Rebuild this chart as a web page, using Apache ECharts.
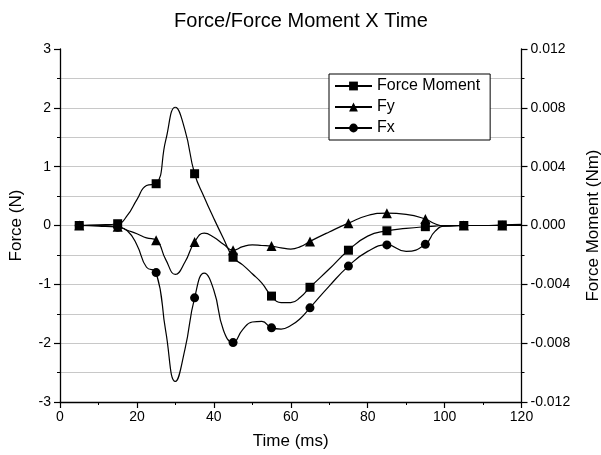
<!DOCTYPE html>
<html>
<head>
<meta charset="utf-8">
<script src="https://cdn.jsdelivr.net/npm/echarts@6/dist/echarts.min.js"></script>
<style>html,body{margin:0;padding:0;background:#fff;}#c{width:601px;height:455px;}</style>
</head>
<body>
<div id="c"></div>
<script>
// Time samples (ms); markers are drawn at 5, 15, 25, ... 115
const time = [5, 10, 15, 17.5, 20, 22.5, 25, 27.5, 30, 32.5, 35, 37.5, 40, 42.5, 45, 47.5, 50, 52.5, 55, 57.5, 60, 62.5, 65, 70, 75, 80, 85, 90, 95, 97.5, 100, 105, 110, 115, 120];
const markerTimes = [5, 15, 25, 35, 45, 55, 65, 75, 85, 95, 105, 115];
// Force Moment (Nm), right axis
const forceMoment = [0, 0.00004, 0.00012, 0.00068, 0.00176, 0.00272, 0.00284, 0.0058, 0.00804, 0.00648, 0.00352, 0.00192, 0.00048, -0.00088, -0.00216, -0.00268, -0.00328, -0.00392, -0.0048, -0.00524, -0.00524, -0.00488, -0.0042, -0.00296, -0.00168, -0.00072, -0.00036, -0.0002, -0.00008, -0.00004, 0, 0, 0, 0.00004, 0.00008];
// Fy (N), left axis
const fy = [0, 0, -0.02, -0.08, -0.14, -0.21, -0.25, -0.58, -0.83, -0.62, -0.28, -0.13, -0.2, -0.32, -0.42, -0.36, -0.33, -0.34, -0.35, -0.38, -0.40, -0.36, -0.27, -0.11, 0.04, 0.17, 0.21, 0.19, 0.11, 0.03, -0.01, 0, 0, 0, 0.01];
// Fx (N), left axis
const fx = [0, -0.01, -0.03, -0.09, -0.33, -0.71, -0.80, -1.8, -2.65, -2.1, -1.23, -0.81, -1.1, -1.78, -1.99, -1.77, -1.64, -1.63, -1.74, -1.76, -1.70, -1.58, -1.40, -1.03, -0.69, -0.44, -0.33, -0.44, -0.32, -0.1, -0.01, 0, 0, 0, 0];

const leftTicks = [-3, -2, -1, 0, 1, 2, 3];
const rightTicks = ['-0.012', '-0.008', '-0.004', '0.000', '0.004', '0.008', '0.012'];
const xTicks = [0, 20, 40, 60, 80, 100, 120];

const pairs = arr => time.map((t, i) => [t, arr[i]]);
const markerSize = size => (val) => (markerTimes.indexOf(val[0]) >= 0 ? size : 0);
const FONT = 'Liberation Sans, Arial, sans-serif';

const chart = echarts.init(document.getElementById('c'), null, {renderer: 'canvas'});
const axisCommon = {
  axisLine: {show: true, onZero: false, lineStyle: {color: '#000', width: 1.3}},
  axisTick: {show: true, inside: false, length: 6, lineStyle: {color: '#000', width: 1.2}},
  minorTick: {show: true, splitNumber: 2, length: 3, lineStyle: {color: '#000', width: 1}},
  axisLabel: {color: '#000', fontSize: 14, fontFamily: FONT},
  nameTextStyle: {color: '#000', fontSize: 17, fontFamily: FONT}
};
chart.setOption({
  animation: false,
  backgroundColor: '#fff',
  title: {
    text: 'Force/Force Moment X Time', left: 296, textAlign: 'center', top: 6,
    textStyle: {color: '#000', fontSize: 20, fontWeight: 'normal', fontFamily: FONT}
  },
  legend: {
    orient: 'vertical', left: 329, top: 74,
    data: ['Force Moment', 'Fy', 'Fx'],
    itemWidth: 37, itemHeight: 11, itemGap: 5,
    padding: [4, 10, 4, 5],
    borderColor: '#000', borderWidth: 1, backgroundColor: '#fff',
    textStyle: {color: '#000', fontSize: 16, fontFamily: FONT}
  },
  grid: {left: 60, right: 79.5, top: 49, bottom: 53, containLabel: false, outerBoundsMode: 'none'},
  xAxis: Object.assign({}, axisCommon, {
    type: 'value', min: 0, max: 120, interval: 20,
    name: 'Time (ms)', nameLocation: 'middle', nameGap: 31,
    splitLine: {show: false},
    axisLabel: Object.assign({}, axisCommon.axisLabel, {margin: 8, formatter: v => (xTicks.indexOf(v) >= 0 ? String(v) : '')})
  }),
  yAxis: [
    Object.assign({}, axisCommon, {
      type: 'value', min: -3, max: 3, interval: 1, position: 'left',
      name: 'Force (N)', nameLocation: 'middle', nameGap: 35,
      splitLine: {show: true, lineStyle: {color: ['#c8c8c8', '#c8c8c8', '#c8c8c8', '#c8c8c8', '#c8c8c8', '#c8c8c8', 'rgba(0,0,0,0)'], width: 1.2}},
      minorSplitLine: {show: true, lineStyle: {color: '#c8c8c8', width: 1.2}},
      axisLabel: Object.assign({}, axisCommon.axisLabel, {margin: 9, formatter: v => String(leftTicks[leftTicks.indexOf(Math.round(v))])})
    }),
    Object.assign({}, axisCommon, {
      type: 'value', min: -0.012, max: 0.012, interval: 0.004, position: 'right',
      name: 'Force Moment (Nm)', nameLocation: 'middle', nameGap: 63,
      splitLine: {show: false}, minorSplitLine: {show: false},
      axisLabel: Object.assign({}, axisCommon.axisLabel, {margin: 9, formatter: v => rightTicks[Math.round(v / 0.004) + 3]})
    })
  ],
  series: [
    {
      name: 'Force Moment', type: 'line', yAxisIndex: 1, data: pairs(forceMoment),
      smooth: 0.5, symbol: 'rect', symbolSize: markerSize(9),
      lineStyle: {color: '#000', width: 1.2}, itemStyle: {color: '#000'}, z: 3
    },
    {
      name: 'Fy', type: 'line', yAxisIndex: 0, data: pairs(fy),
      smooth: 0.5, symbol: 'triangle', symbolSize: markerSize(10),
      lineStyle: {color: '#000', width: 1.2}, itemStyle: {color: '#000'}, z: 3
    },
    {
      name: 'Fx', type: 'line', yAxisIndex: 0, data: pairs(fx),
      smooth: 0.5, symbol: 'circle', symbolSize: markerSize(9),
      lineStyle: {color: '#000', width: 1.2}, itemStyle: {color: '#000'}, z: 3
    }
  ]
});
</script>
</body>
</html>
